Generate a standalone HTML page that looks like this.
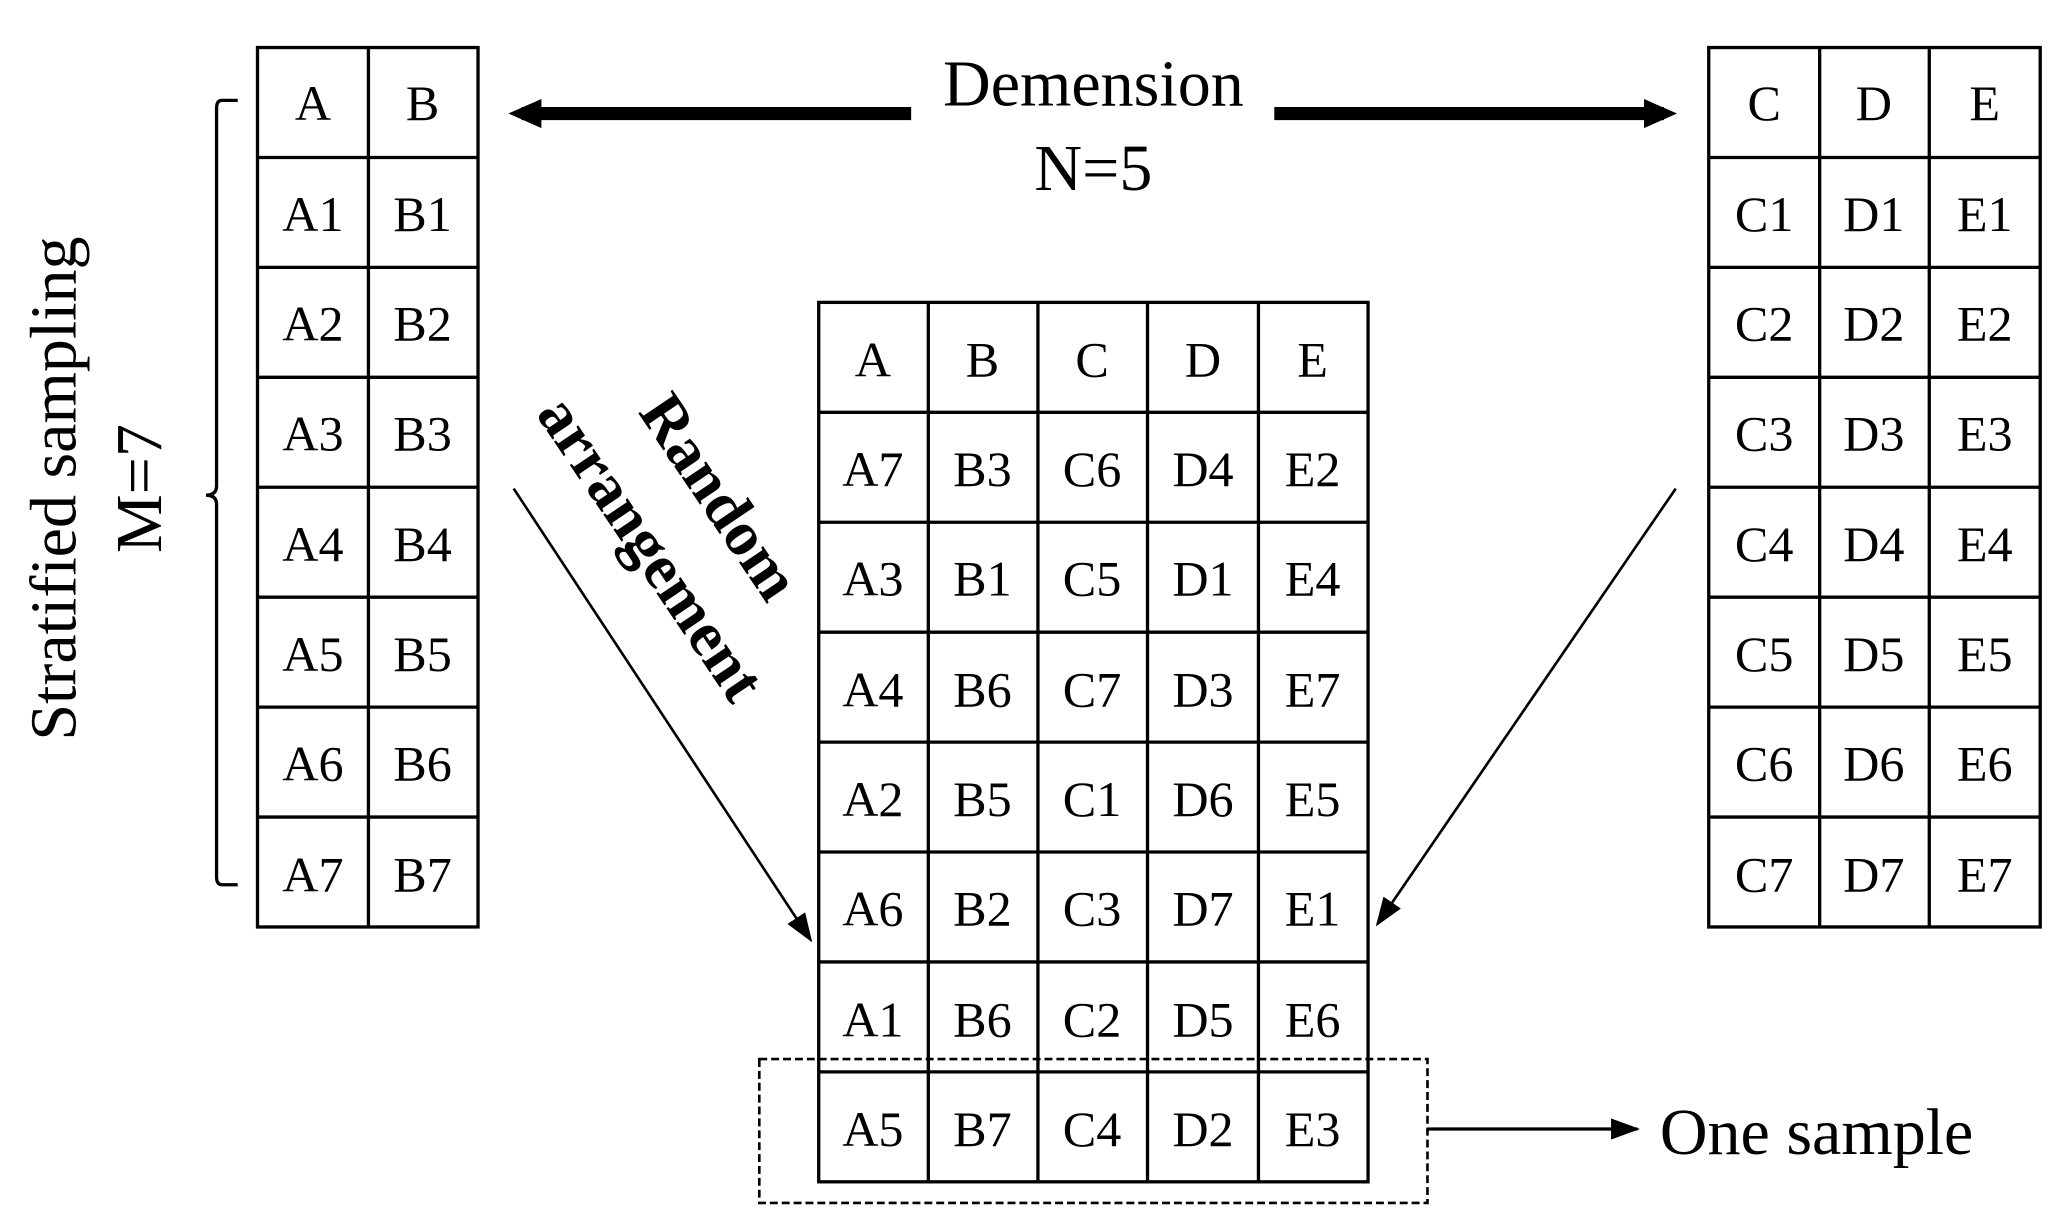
<!DOCTYPE html>
<html><head><meta charset="utf-8"><style>html,body{margin:0;padding:0;background:#fff}svg{display:block}</style></head>
<body>
<svg width="2060" height="1218" viewBox="0 0 1560 922.4" preserveAspectRatio="none" xmlns="http://www.w3.org/2000/svg" font-family="Liberation Serif, serif">
<defs>
<marker id="ah2" markerWidth="22" markerHeight="16" refX="20" refY="8" orient="auto" markerUnits="userSpaceOnUse"><path d="M0,0 L22,8 L0,16 z" fill="#000"/></marker>
<marker id="ah3" markerWidth="28" markerHeight="24" refX="26" refY="12" orient="auto" markerUnits="userSpaceOnUse"><path d="M0,0 L28,12 L0,24 z" fill="#000"/></marker>
</defs>
<g fill="none" stroke="#000" stroke-width="2.5">
<rect x="195" y="36" width="167" height="666"/>
<line x1="279" y1="36" x2="279" y2="702"/>
<rect x="1294" y="36" width="251" height="666"/>
<line x1="1378" y1="36" x2="1378" y2="702"/>
<line x1="1461" y1="36" x2="1461" y2="702"/>
<rect x="620" y="229" width="416" height="666"/>
<line x1="703" y1="229" x2="703" y2="895"/>
<line x1="786" y1="229" x2="786" y2="895"/>
<line x1="869" y1="229" x2="869" y2="895"/>
<line x1="953" y1="229" x2="953" y2="895"/>
</g>
<g stroke="#000" stroke-width="2.5">
<line x1="195" y1="119.25" x2="362" y2="119.25"/><line x1="195" y1="202.5" x2="362" y2="202.5"/><line x1="195" y1="285.75" x2="362" y2="285.75"/><line x1="195" y1="369" x2="362" y2="369"/><line x1="195" y1="452.25" x2="362" y2="452.25"/><line x1="195" y1="535.5" x2="362" y2="535.5"/><line x1="195" y1="618.75" x2="362" y2="618.75"/>
<line x1="1294" y1="119.25" x2="1545" y2="119.25"/><line x1="1294" y1="202.5" x2="1545" y2="202.5"/><line x1="1294" y1="285.75" x2="1545" y2="285.75"/><line x1="1294" y1="369" x2="1545" y2="369"/><line x1="1294" y1="452.25" x2="1545" y2="452.25"/><line x1="1294" y1="535.5" x2="1545" y2="535.5"/><line x1="1294" y1="618.75" x2="1545" y2="618.75"/>
<line x1="620" y1="312.25" x2="1036" y2="312.25"/><line x1="620" y1="395.5" x2="1036" y2="395.5"/><line x1="620" y1="478.75" x2="1036" y2="478.75"/><line x1="620" y1="562" x2="1036" y2="562"/><line x1="620" y1="645.25" x2="1036" y2="645.25"/><line x1="620" y1="728.5" x2="1036" y2="728.5"/><line x1="620" y1="811.75" x2="1036" y2="811.75"/>
</g>
<g font-size="38" text-anchor="middle" fill="#000">
<text x="237" y="91">A</text><text x="320" y="91">B</text>
<text x="237" y="175">A1</text><text x="320" y="175">B1</text>
<text x="237" y="258">A2</text><text x="320" y="258">B2</text>
<text x="237" y="341">A3</text><text x="320" y="341">B3</text>
<text x="237" y="425">A4</text><text x="320" y="425">B4</text>
<text x="237" y="508">A5</text><text x="320" y="508">B5</text>
<text x="237" y="591">A6</text><text x="320" y="591">B6</text>
<text x="237" y="675">A7</text><text x="320" y="675">B7</text>

<text x="1336" y="91">C</text><text x="1419" y="91">D</text><text x="1503" y="91">E</text>
<text x="1336" y="175">C1</text><text x="1419" y="175">D1</text><text x="1503" y="175">E1</text>
<text x="1336" y="258">C2</text><text x="1419" y="258">D2</text><text x="1503" y="258">E2</text>
<text x="1336" y="341">C3</text><text x="1419" y="341">D3</text><text x="1503" y="341">E3</text>
<text x="1336" y="425">C4</text><text x="1419" y="425">D4</text><text x="1503" y="425">E4</text>
<text x="1336" y="508">C5</text><text x="1419" y="508">D5</text><text x="1503" y="508">E5</text>
<text x="1336" y="591">C6</text><text x="1419" y="591">D6</text><text x="1503" y="591">E6</text>
<text x="1336" y="675">C7</text><text x="1419" y="675">D7</text><text x="1503" y="675">E7</text>

<text x="661" y="285">A</text><text x="744" y="285">B</text><text x="827" y="285">C</text><text x="911" y="285">D</text><text x="994" y="285">E</text>
<text x="661" y="368">A7</text><text x="744" y="368">B3</text><text x="827" y="368">C6</text><text x="911" y="368">D4</text><text x="994" y="368">E2</text>
<text x="661" y="451">A3</text><text x="744" y="451">B1</text><text x="827" y="451">C5</text><text x="911" y="451">D1</text><text x="994" y="451">E4</text>
<text x="661" y="535">A4</text><text x="744" y="535">B6</text><text x="827" y="535">C7</text><text x="911" y="535">D3</text><text x="994" y="535">E7</text>
<text x="661" y="618">A2</text><text x="744" y="618">B5</text><text x="827" y="618">C1</text><text x="911" y="618">D6</text><text x="994" y="618">E5</text>
<text x="661" y="701">A6</text><text x="744" y="701">B2</text><text x="827" y="701">C3</text><text x="911" y="701">D7</text><text x="994" y="701">E1</text>
<text x="661" y="785">A1</text><text x="744" y="785">B6</text><text x="827" y="785">C2</text><text x="911" y="785">D5</text><text x="994" y="785">E6</text>
<text x="661" y="868">A5</text><text x="744" y="868">B7</text><text x="827" y="868">C4</text><text x="911" y="868">D2</text><text x="994" y="868">E3</text>
</g>
<rect x="575" y="802" width="506" height="109" fill="none" stroke="#000" stroke-width="2" stroke-dasharray="6,3"/>
<line x1="1081" y1="855" x2="1240" y2="855" stroke="#000" stroke-width="2.5" marker-end="url(#ah2)"/>
<text x="1257" y="874" font-size="50">One sample</text>
<text x="828" y="80" font-size="50" text-anchor="middle">Demension</text>
<text x="828" y="144" font-size="50" text-anchor="middle">N=5</text>
<line x1="690" y1="86" x2="395" y2="86" stroke="#000" stroke-width="10"/>
<path d="M385,86 L410,75 L410,97 z" fill="#000"/>
<line x1="965" y1="86" x2="1260" y2="86" stroke="#000" stroke-width="10"/>
<path d="M1270,86 L1245,75 L1245,97 z" fill="#000"/>
<line x1="389" y1="370" x2="614" y2="712" stroke="#000" stroke-width="2" marker-end="url(#ah2)"/>
<line x1="1269" y1="370" x2="1043" y2="700" stroke="#000" stroke-width="2" marker-end="url(#ah2)"/>
<path d="M180,76 L168,76 Q164,76 164,82 L164,368 Q164,375 156,375 Q164,375 164,382 L164,664 Q164,670 168,670 L180,670" fill="none" stroke="#000" stroke-width="2.5"/>
<text transform="translate(57,370) rotate(-90)" font-size="50" text-anchor="middle">Stratified sampling</text>
<text transform="translate(122,370) rotate(-90)" font-size="50" text-anchor="middle">M=7</text>
<text transform="translate(532,385) rotate(56)" font-size="48" font-weight="bold" text-anchor="middle">Random</text>
<text transform="translate(480,424) rotate(56)" font-size="48" font-weight="bold" text-anchor="middle">arrangement</text>
</svg>
</body></html>
